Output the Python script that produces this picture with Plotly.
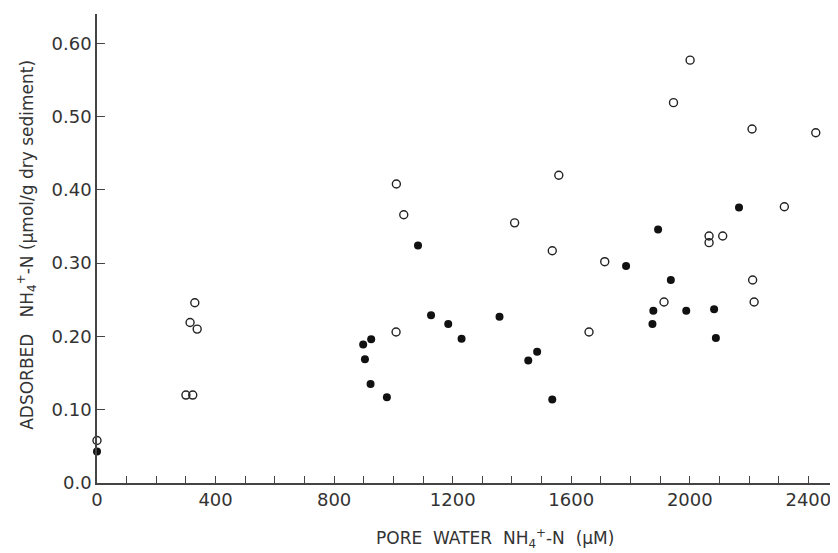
import plotly.graph_objects as go

# Open circles
open_x = [0, 300, 323, 330, 314, 338, 1010, 1035, 1009, 1409, 1536, 1558, 1660, 1713,
          1913, 1945, 2001, 2065, 2065, 2111, 2210, 2212, 2217, 2319, 2425]
open_y = [0.058, 0.120, 0.120, 0.246, 0.219, 0.210, 0.408, 0.366, 0.206, 0.355, 0.317, 0.420, 0.206, 0.302,
          0.247, 0.519, 0.577, 0.337, 0.328, 0.337, 0.483, 0.277, 0.247, 0.377, 0.478]

# Filled circles
filled_x = [0, 898, 904, 923, 925, 978, 1083, 1127, 1185, 1230, 1358, 1455, 1485, 1536,
            1785, 1874, 1877, 1893, 1936, 1988, 2082, 2088, 2166]
filled_y = [0.043, 0.189, 0.169, 0.135, 0.196, 0.117, 0.324, 0.229, 0.217, 0.197, 0.227, 0.167, 0.179, 0.114,
            0.296, 0.217, 0.235, 0.346, 0.277, 0.235, 0.237, 0.198, 0.376]

x_ticks = [0, 400, 800, 1200, 1600, 2000, 2400]
y_ticks = [0.0, 0.1, 0.2, 0.3, 0.4, 0.5, 0.6]
y_labels = ["0.0", "0.10", "0.20", "0.30", "0.40", "0.50", "0.60"]

FONT = "DejaVu Sans"
INK = "#333333"
NB = "\u00a0"

fig = go.Figure()
fig.add_trace(go.Scatter(
    x=open_x, y=open_y, mode="markers", cliponaxis=False,
    marker=dict(symbol="circle-open", size=8, color="#222222", line=dict(width=1.4, color="#222222")),
    showlegend=False))
fig.add_trace(go.Scatter(
    x=filled_x, y=filled_y, mode="markers", cliponaxis=False,
    marker=dict(symbol="circle", size=8, color="#111111"),
    showlegend=False))

# the page body adds an 8px offset; size the figure to the visible area
fig.update_layout(
    width=830, height=545,
    margin=dict(l=89, r=0, t=6, b=70),
    paper_bgcolor="white", plot_bgcolor="white",
    font=dict(family=FONT, color=INK),
    xaxis=dict(range=[0, 2500], tickvals=x_ticks, ticktext=[str(v) for v in x_ticks],
               automargin=False,
               showgrid=False, zeroline=False, showline=True, linecolor="#444444", linewidth=1.5,
               ticks="inside", ticklen=7, tickcolor="#444444", tickwidth=1.2,
               minor=dict(dtick=100, tick0=0, ticks="inside", ticklen=7, tickcolor="#444444", tickwidth=1.2),
               tickfont=dict(size=18, color=INK, family=FONT)),
    yaxis=dict(range=[0, 0.64], tickvals=y_ticks, ticktext=y_labels,
               automargin=False,
               showgrid=False, zeroline=False, showline=True, linecolor="#444444", linewidth=1.5,
               ticks="inside", ticklen=8, tickcolor="#444444", tickwidth=1.2,
               tickfont=dict(size=18, color=INK, family=FONT)),
    annotations=[
        dict(text=f"PORE{NB*2}WATER{NB*2}NH<sub>4</sub><sup>+</sup>-N{NB*2}(μM)", xref="paper", yref="paper",
             x=0.537, y=-0.118, xanchor="center", yanchor="middle", showarrow=False,
             font=dict(size=17, color=INK, family=FONT)),
        dict(text=f"ADSORBED{NB*3}NH<sub>4</sub><sup>+</sup>-N{NB}(μmol/g dry sediment)", xref="paper", yref="paper",
             x=-0.095, y=0.507, xanchor="center", yanchor="middle", textangle=-90, showarrow=False,
             font=dict(size=17, color=INK, family=FONT)),
    ],
)

fig.write_html("out.html")
